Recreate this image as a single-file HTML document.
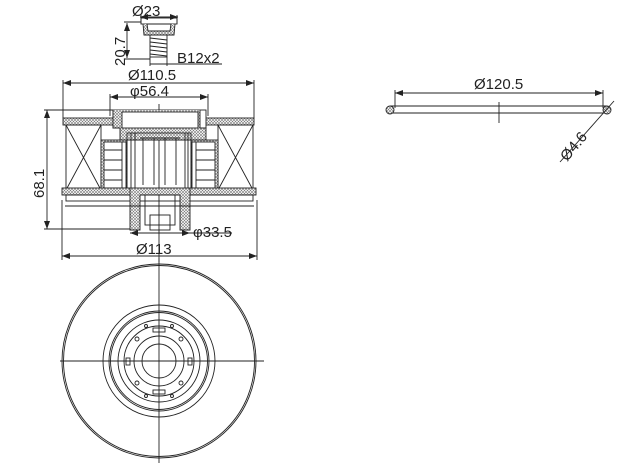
<!DOCTYPE html>
<html><head><meta charset="utf-8"><style>
html,body{margin:0;padding:0;background:#fff;}
svg{display:block}
text{font-family:"Liberation Sans",sans-serif;font-size:15px;fill:#222}
</style></head><body>
<svg width="627" height="468" viewBox="0 0 627 468" xmlns="http://www.w3.org/2000/svg">
<defs>
<pattern id="h" width="3" height="3" patternUnits="userSpaceOnUse">
<rect width="3" height="3" fill="#fff"/>
<path d="M0 0L3 3M3 0L0 3" stroke="#777" stroke-width="0.6"/>
</pattern>
<marker id="a" markerWidth="8" markerHeight="6" refX="8" refY="3" orient="auto-start-reverse" markerUnits="userSpaceOnUse"><path d="M0 0L8 3L0 6z" fill="#222"/></marker>
</defs>
<g stroke="#222" stroke-width="0.9" fill="none">
<line x1="140" y1="17" x2="178" y2="17" marker-start="url(#a)" marker-end="url(#a)"/>
<line x1="141" y1="15" x2="141" y2="24"/><line x1="177" y1="15" x2="177" y2="24"/>
<rect x="141" y="18" width="36" height="6"/>
<path d="M143 24 L144 35 L174 35 L175 24" fill="url(#h)"/>
<path d="M147 24 L148 31 L170 31 L171 24 Z" fill="#fff"/>
<rect x="150" y="35" width="17" height="22"/>
<path d="M150 38 L167 40 M150 42 L167 44 M150 46 L167 48 M150 50 L167 52 M150 54 L167 56"/>
<line x1="127" y1="23" x2="127" y2="58" marker-start="url(#a)" marker-end="url(#a)"/>
<line x1="124" y1="22" x2="141" y2="22"/><line x1="124" y1="59" x2="150" y2="59"/>
<line x1="150" y1="57" x2="150" y2="66"/><line x1="167" y1="57" x2="167" y2="66"/>
<line x1="150" y1="64" x2="222" y2="64"/>
<line x1="63" y1="83" x2="254" y2="83" marker-start="url(#a)" marker-end="url(#a)"/>
<line x1="63" y1="80" x2="63" y2="118"/><line x1="254" y1="80" x2="254" y2="118"/>
<line x1="110" y1="97" x2="208" y2="97" marker-start="url(#a)" marker-end="url(#a)"/>
<line x1="110" y1="94" x2="110" y2="116"/><line x1="208" y1="94" x2="208" y2="116"/>
<line x1="47" y1="110" x2="47" y2="229" marker-start="url(#a)" marker-end="url(#a)"/>
<line x1="44" y1="110" x2="113" y2="110"/><line x1="44" y1="229" x2="130" y2="229"/>
<line x1="130" y1="233" x2="190" y2="233" marker-start="url(#a)" marker-end="url(#a)"/>
<line x1="190" y1="233" x2="232" y2="233"/>
<line x1="62" y1="256" x2="257" y2="256" marker-start="url(#a)" marker-end="url(#a)"/>
<line x1="62" y1="200" x2="62" y2="260"/><line x1="257" y1="200" x2="257" y2="260"/>
<line x1="159" y1="104" x2="159" y2="262"/>
<rect x="63" y="118" width="191" height="7" fill="url(#h)"/>
<rect x="113" y="110" width="93" height="18" fill="#fff"/>
<path d="M113 110 L113 128 L120 128 L120 140 L206 140 L206 128 L200 128 L200 110" fill="url(#h)"/>
<rect x="122" y="112" width="76" height="16" fill="#fff"/>
<rect x="66" y="125" width="35" height="65"/><path d="M66 125 L101 190 M101 125 L66 190"/>
<rect x="218" y="125" width="35" height="65"/><path d="M218 125 L253 190 M253 125 L218 190"/>
<rect x="101" y="140" width="26" height="50" fill="url(#h)"/>
<rect x="104" y="142" width="22" height="46" fill="#fff"/>
<path d="M104 150H122M104 160H122M104 170H122M104 180H122M122 142V188"/>
<rect x="191" y="140" width="27" height="50" fill="url(#h)"/>
<rect x="192" y="142" width="23" height="46" fill="#fff"/>
<path d="M196 150H215M196 160H215M196 170H215M196 180H215M196 142V188"/>
<rect x="127" y="133" width="64" height="58"/>
<path d="M131 133V190M135 133V190M185 133V190M188 133V190M140 138H180M143 138V185M154 138V185M165 138V185M176 138V185"/>
<rect x="62" y="188" width="194" height="7" fill="url(#h)"/>
<rect x="66" y="195" width="187" height="6"/>
<path d="M130 188 L130 230 L140 230 L140 195" fill="url(#h)"/>
<path d="M180 195 L180 230 L190 230 L190 188" fill="url(#h)"/>
<rect x="145" y="195" width="30" height="30"/>
<rect x="150" y="215" width="20" height="15"/>
<line x1="65" y1="206" x2="254" y2="206"/>
<circle cx="159" cy="361" r="97"/><circle cx="159" cy="361" r="95.5"/>
<circle cx="159" cy="361" r="56"/><circle cx="159" cy="361" r="50"/><circle cx="159" cy="361" r="48.5"/>
<circle cx="159" cy="361" r="41"/><circle cx="159" cy="361" r="35"/><circle cx="159" cy="361" r="25"/><circle cx="159" cy="361" r="17"/>
<line x1="60" y1="361" x2="264" y2="361"/><line x1="159" y1="258" x2="159" y2="463"/>
<rect x="153" y="328" width="12" height="4"/><rect x="153" y="390" width="12" height="4"/>
<rect x="126" y="358" width="4" height="7"/><rect x="188" y="358" width="4" height="7"/>
<circle cx="146" cy="326" r="1.5"/><circle cx="172" cy="326" r="1.5"/><circle cx="146" cy="396" r="1.5"/><circle cx="172" cy="396" r="1.5"/>
<circle cx="137" cy="339" r="2"/><circle cx="181" cy="339" r="2"/><circle cx="137" cy="383" r="2"/><circle cx="181" cy="383" r="2"/>
<line x1="395" y1="93" x2="603" y2="93" marker-start="url(#a)" marker-end="url(#a)"/>
<line x1="395" y1="90" x2="395" y2="108"/><line x1="603" y1="90" x2="603" y2="108"/>
<line x1="390" y1="106" x2="607" y2="106"/><line x1="390" y1="113" x2="607" y2="113"/>
<circle cx="390" cy="110" r="4" fill="url(#h)"/><circle cx="607" cy="110" r="4" fill="url(#h)"/>
<line x1="499" y1="102" x2="499" y2="123"/>
<line x1="614" y1="101" x2="560" y2="162"/>
</g>
<text x="132" y="16">Ø23</text>
<text x="0" y="0" transform="translate(125,66) rotate(-90)">20.7</text>
<text x="177" y="63">B12x2</text>
<text x="128" y="80">Ø110.5</text>
<text x="130" y="96">φ56.4</text>
<text x="0" y="0" transform="translate(44,198) rotate(-90)">68.1</text>
<text x="193" y="237">φ33.5</text>
<text x="136" y="254">Ø113</text>
<text x="474" y="89">Ø120.5</text>
<text x="0" y="0" transform="translate(567,162) rotate(-50)">Ø4.6</text>
</svg>
</body></html>
